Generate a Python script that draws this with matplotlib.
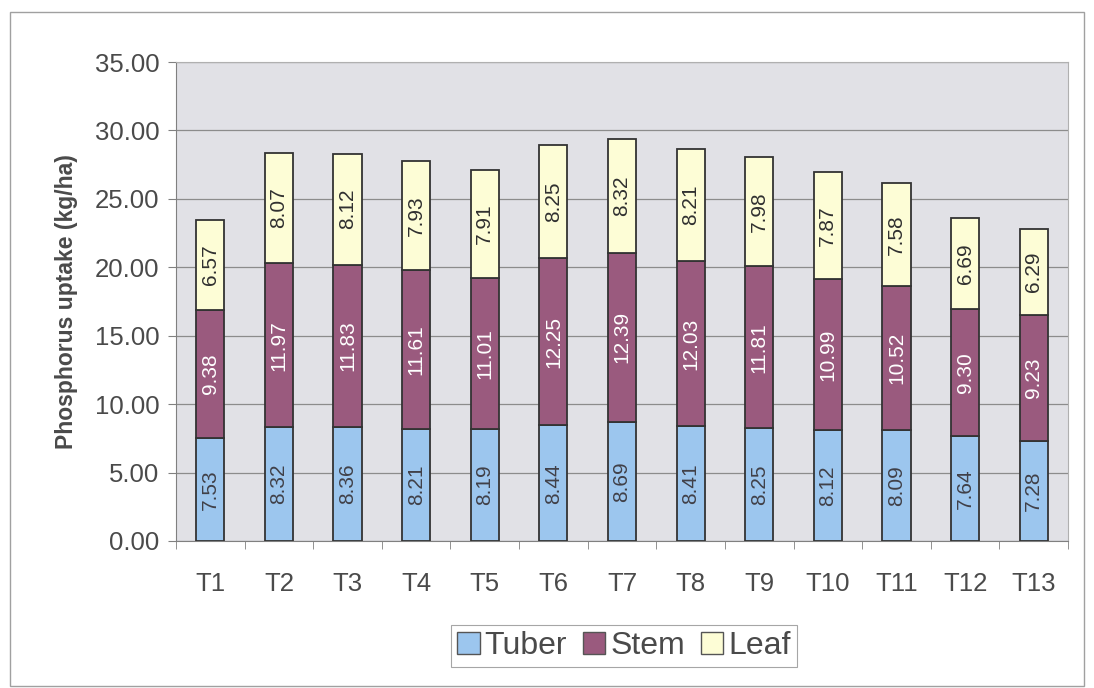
import matplotlib
matplotlib.use("Agg")
import matplotlib.pyplot as plt
from matplotlib.patches import Rectangle
import numpy as np

treatments = ["T1", "T2", "T3", "T4", "T5", "T6", "T7", "T8", "T9", "T10", "T11", "T12", "T13"]
tuber = [7.53, 8.32, 8.36, 8.21, 8.19, 8.44, 8.69, 8.41, 8.25, 8.12, 8.09, 7.64, 7.28]
stem = [9.38, 11.97, 11.83, 11.61, 11.01, 12.25, 12.39, 12.03, 11.81, 10.99, 10.52, 9.30, 9.23]
leaf = [6.57, 8.07, 8.12, 7.93, 7.91, 8.25, 8.32, 8.21, 7.98, 7.87, 7.58, 6.69, 6.29]
y_ticks = [0, 5, 10, 15, 20, 25, 30, 35]

plt.rcParams["font.family"] = ["Liberation Sans", "DejaVu Sans"]
txt = "#4a4a4a"

fig = plt.figure(figsize=(10.94, 6.88), dpi=100)
fig.patch.set_facecolor("white")
fig.add_artist(Rectangle((0.009, 0.003), 0.982, 0.98, transform=fig.transFigure,
                         fill=False, edgecolor="#a0a0a0", linewidth=1.0))

ax = fig.add_axes([176 / 1094, 1 - 541 / 688, (1068 - 176) / 1094, (541 - 62) / 688])
ax.set_facecolor("#e1e1e6")

x = np.arange(len(treatments))
w = 0.41
tuber_a = np.array(tuber)
stem_a = np.array(stem)
leaf_a = np.array(leaf)

b1 = ax.bar(x, tuber_a, w, color="#9cc6ee", edgecolor="#333333", linewidth=1.3, label="Tuber", zorder=3)
b2 = ax.bar(x, stem_a, w, bottom=tuber_a, color="#9a5a7e", edgecolor="#333333", linewidth=1.3, label="Stem", zorder=3)
b3 = ax.bar(x, leaf_a, w, bottom=tuber_a + stem_a, color="#fdfdd6", edgecolor="#333333", linewidth=1.3, label="Leaf", zorder=3)

for i in range(len(treatments)):
    ax.text(x[i], tuber_a[i] / 2, f"{tuber_a[i]:.2f}", rotation=90, ha="center", va="center",
            fontsize=15, color="#404048", zorder=4)
    ax.text(x[i], tuber_a[i] + stem_a[i] / 2, f"{stem_a[i]:.2f}", rotation=90, ha="center", va="center",
            fontsize=15, color="white", zorder=4)
    ax.text(x[i], tuber_a[i] + stem_a[i] + leaf_a[i] / 2, f"{leaf_a[i]:.2f}", rotation=90, ha="center",
            va="center", fontsize=15, color="#303030", zorder=4)

ax.set_xlim(-0.5, len(treatments) - 0.5)
ax.set_ylim(0, 35)
ax.set_yticks(y_ticks)
ax.set_yticklabels([f"{v:.2f}" for v in y_ticks], fontsize=18.5, color=txt)
ax.set_xticks(x)
ax.set_xticklabels(treatments, fontsize=18.5, color=txt)
ax.set_xticks(np.arange(len(treatments) + 1) - 0.5, minor=True)
ax.tick_params(axis="x", which="major", length=0, pad=22)
ax.tick_params(axis="x", which="minor", length=6, color="#808080")
ax.tick_params(axis="y", length=6, color="#808080", pad=6)
ax.grid(axis="y", color="#8c8c8c", linewidth=0.9, zorder=1)
ax.set_axisbelow(True)
for side in ["top", "right"]:
    ax.spines[side].set_color("#b0b0b0")
    ax.spines[side].set_linewidth(0.8)
ax.spines["left"].set_color("#808080")
ax.spines["bottom"].set_color("#808080")

ax.set_ylabel("Phosphorus uptake (kg/ha)", fontsize=16.5, fontweight="bold", color=txt, labelpad=12)

leg = fig.legend(handles=[b1, b2, b3], labels=["Tuber", "Stem", "Leaf"], loc="center",
                 bbox_to_anchor=(624 / 1094, 1 - 646 / 688), ncol=3, fontsize=23,
                 frameon=True, fancybox=False, handlelength=0.7, handleheight=0.7,
                 handletextpad=0.15, columnspacing=0.5, borderpad=0.2, borderaxespad=0)
leg.get_frame().set_edgecolor("#909090")
leg.get_frame().set_linewidth(0.8)
for t in leg.get_texts():
    t.set_color(txt)
for h in leg.legend_handles:
    h.set_edgecolor("#555555")
    h.set_linewidth(1.0)

fig.savefig("out.png", dpi=100)
